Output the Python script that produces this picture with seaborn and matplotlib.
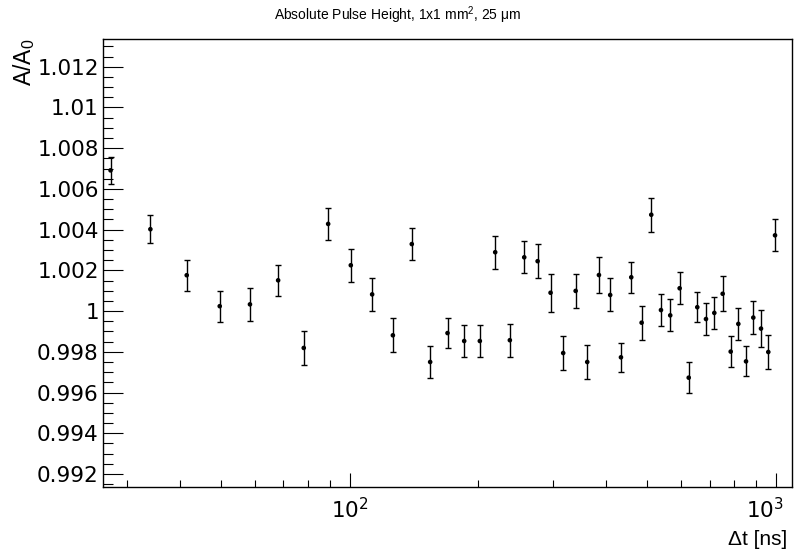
import numpy as np
import pandas as pd
import matplotlib
matplotlib.use("Agg")
import matplotlib.pyplot as plt
import matplotlib.transforms as mtransforms
from matplotlib.ticker import FixedLocator, LogLocator, MultipleLocator, FuncFormatter, NullFormatter
import seaborn as sns

# Time between pulses [ns]
delta_t = [27.5, 34.1, 41.5, 49.6, 58.4, 68.0, 78.1, 89.1, 100.7, 113.0,
           126.4, 140.0, 154.6, 169.8, 185.8, 202.2, 219.7, 237.8, 257.0, 276.3,
           296.3, 317.2, 339.3, 361.2, 384.8, 408.9, 433.4, 458.2, 484.6, 510.5,
           538.0, 565.6, 595.1, 625.0, 654.6, 686.1, 717.7, 750.8, 784.1, 817.1,
           851.8, 886.0, 923.6, 960.7, 996.3]

# Relative pulse height A/A0
ratio = [1.00691, 1.00402, 1.00176, 1.00024, 1.00033, 1.00151, 0.99819, 1.00428, 1.00225, 1.00082,
         0.99881, 1.00329, 0.99750, 0.99892, 0.99853, 0.99853, 1.00289, 0.99857, 1.00264, 1.00245,
         1.00090, 0.99794, 1.00099, 0.99750, 1.00177, 1.00079, 0.99773, 1.00166, 0.99943, 1.00473,
         1.00005, 0.99979, 1.00112, 0.99673, 1.00019, 0.99961, 0.99991, 1.00085, 0.99801, 0.99937,
         0.99753, 0.99968, 0.99914, 0.99799, 1.00372]

# Statistical uncertainty on A/A0
ratio_err = [0.00068, 0.00068, 0.00077, 0.00077, 0.00080, 0.00077, 0.00082, 0.00079, 0.00080, 0.00080,
             0.00083, 0.00077, 0.00079, 0.00075, 0.00079, 0.00079, 0.00080, 0.00081, 0.00078, 0.00083,
             0.00093, 0.00083, 0.00083, 0.00082, 0.00088, 0.00081, 0.00072, 0.00076, 0.00083, 0.00083,
             0.00080, 0.00079, 0.00079, 0.00076, 0.00074, 0.00079, 0.00077, 0.00086, 0.00076, 0.00080,
             0.00074, 0.00083, 0.00090, 0.00083, 0.00078]

x_major = [100, 1000]
y_range = (0.991376, 1.01336)
x_range = (26.4, 1092)

sns.set_theme(style="ticks")
plt.rcParams["font.family"] = ["Liberation Sans", "DejaVu Sans"]
plt.rcParams["mathtext.fontset"] = "custom"
plt.rcParams["mathtext.rm"] = "Liberation Sans"
plt.rcParams["mathtext.it"] = "Liberation Sans:italic"
plt.rcParams["mathtext.bf"] = "Liberation Sans:bold"
plt.rcParams["mathtext.sf"] = "DejaVu Sans"

df = pd.DataFrame({"dt": delta_t, "ratio": ratio, "err": ratio_err})

fig = plt.figure(figsize=(7.96, 5.54), dpi=100)
fig.patch.set_facecolor("white")
ax = fig.add_axes([103 / 796, 1 - 486.7 / 554, (792 - 103) / 796, (486.7 - 39) / 554])
ax.set_facecolor("white")
ax.set_xscale("log")

ax.errorbar(df["dt"], df["ratio"], yerr=df["err"], fmt="none", ecolor="black",
            elinewidth=1.0, capsize=2.5, capthick=1.0, zorder=2)
sns.scatterplot(data=df, x="dt", y="ratio", ax=ax, color="black", s=11,
                marker="o", edgecolor="none", zorder=3, legend=False)

ax.set_xlim(*x_range)
ax.set_ylim(*y_range)
ax.set_xlabel("")
ax.set_ylabel("")
ax.grid(False)

# y axis: majors every 0.002, 4 subdivisions
ax.yaxis.set_major_locator(MultipleLocator(0.002))
ax.yaxis.set_minor_locator(MultipleLocator(0.0005))
ax.yaxis.set_major_formatter(FuncFormatter(lambda v, p: f"{v:.3f}".rstrip("0").rstrip(".")))

# x axis: decades labelled as powers of ten
ax.xaxis.set_major_locator(FixedLocator(x_major))
ax.xaxis.set_major_formatter(FuncFormatter(lambda v, p: r"$\mathsf{10^{%d}}$" % round(np.log10(v))))
ax.xaxis.set_minor_locator(LogLocator(base=10, subs=np.arange(2, 10)))
ax.xaxis.set_minor_formatter(NullFormatter())

ax.tick_params(axis="both", which="both", direction="in", top=False, right=False,
               color="black", labelcolor="black")
ax.tick_params(axis="y", which="major", length=14.4, width=0.8, labelsize=15.5, pad=3)
ax.tick_params(axis="y", which="minor", length=7.2, width=0.8)
ax.tick_params(axis="x", which="major", length=10, width=0.8, labelsize=15.5, pad=8)
ax.tick_params(axis="x", which="minor", length=5, width=0.8)

for sp in ax.spines.values():
    sp.set_visible(True)
    sp.set_color("black")
    sp.set_linewidth(1.0)

fig.canvas.draw()
for lab in ax.get_yticklabels():
    lab.set_family("DejaVu Sans")
# keep the last decade label inside the canvas
labels = ax.get_xticklabels()
if labels:
    last = labels[-1]
    last.set_transform(last.get_transform() + mtransforms.ScaledTranslation(-11 / 100, 0, fig.dpi_scale_trans))

fig.text(0.5, 1 - 15 / 554, "Absolute Pulse Height, 1x1 mm$^2$, 25 μm",
         ha="center", va="center", fontsize=10, color="black")
fig.text(24 / 796, 1 - 39 / 554, "A/A$_0$", rotation=90, ha="center", va="top",
         fontsize=16.5, color="black")
fig.text(787 / 796, 1 - 549 / 554, "Δt [ns]", ha="right", va="bottom",
         fontsize=15, color="black")

fig.savefig("out.png", dpi=100, facecolor="white")
